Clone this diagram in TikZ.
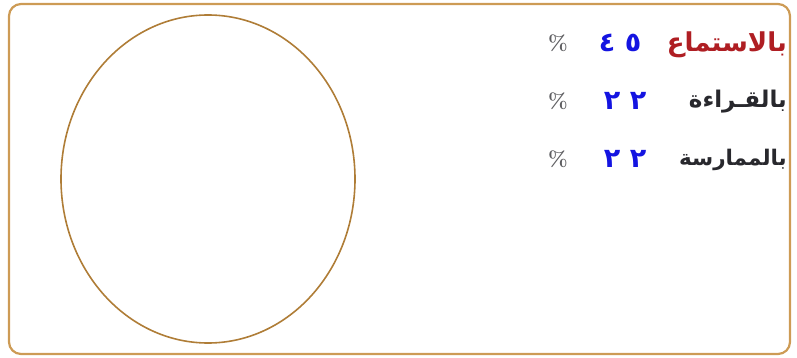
\documentclass[tikz,border=0pt]{standalone}
\usepackage{fontspec}
\newfontfamily\arabicfont[Script=Arabic]{DejaVu Sans}
\TeXXeTstate=1
\definecolor{framecol}{RGB}{205,155,85}
\definecolor{ringcol}{RGB}{175,125,55}
\definecolor{wordred}{RGB}{175,30,35}
\definecolor{worddark}{RGB}{40,40,45}
\definecolor{numblue}{RGB}{20,20,225}
\tikzset{
  word/.style={anchor=east,inner sep=0pt,font=\arabicfont\bfseries\fontsize{26}{26}\selectfont},
  num/.style={anchor=center,inner sep=0pt,text=numblue,font=\arabicfont\bfseries\fontsize{27}{27}\selectfont},
  pct/.style={anchor=center,inner sep=0pt,text=worddark!75,font=\bfseries\fontsize{21}{21}\selectfont}
}
\begin{document}
\begin{tikzpicture}[x=1pt,y=-1pt,line cap=round,line join=round]
  \useasboundingbox (0,0) rectangle (797,358);
  % frame and circle
  \draw[framecol,line width=2.2pt,rounded corners=12pt] (9,4) rectangle (790,354);
  \draw[ringcol,line width=1.6pt] (208,179) ellipse (147 and 164);
  % rows
  \node[word,text=wordred] (listen) at (787,45) {\beginR بالاستماع\endR};
  \node[word,text=worddark,font=\arabicfont\bfseries\fontsize{23}{23}\selectfont] (read) at (787,102) {\beginR بالقـراءة\endR};
  \node[word,text=worddark,font=\arabicfont\bfseries\fontsize{21.5}{21.5}\selectfont] (practice) at (787,160) {\beginR بالممارسة\endR};
  \node[num] (n1a) at (607,43) {٤};
  \node[num] (n1b) at (633,43) {٥};
  \node[num] (n2a) at (612,101) {٢};
  \node[num] (n2b) at (638,101) {٢};
  \node[num] (n3a) at (612,159) {٢};
  \node[num] (n3b) at (638,159) {٢};
  \node[pct] (p1) at (558,43) {\%};
  \node[pct] (p2) at (558,101) {\%};
  \node[pct] (p3) at (558,159) {\%};
\end{tikzpicture}
\end{document}
